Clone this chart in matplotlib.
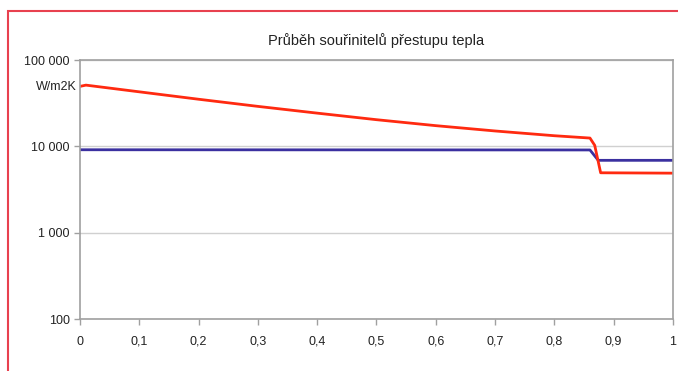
import matplotlib

matplotlib.use("Agg")
import matplotlib.pyplot as plt
from matplotlib.patches import Rectangle
from matplotlib.ticker import FixedLocator, FuncFormatter

plt.rcParams["font.family"] = ["Liberation Sans", "DejaVu Sans"]

# Průběh součinitelů přestupu tepla
x_red = [0, 0.01, 0.1, 0.2, 0.3, 0.4, 0.5, 0.6, 0.7, 0.8, 0.86, 0.868, 0.878, 1.0]
y_red = [49600, 51300, 42900, 35200, 29100, 24300, 20400, 17400, 15100, 13300,
         12500, 10300, 4950, 4900]

x_blue = [0, 0.86, 0.874, 1.0]
y_blue = [9150, 9100, 6900, 6900]

y_ticks = [100, 1000, 10000, 100000]
x_ticks = [0, 0.1, 0.2, 0.3, 0.4, 0.5, 0.6, 0.7, 0.8, 0.9, 1]

fig = plt.figure(figsize=(6.78, 3.71), dpi=100)
ax = fig.add_axes([0.118, 0.140, 0.8746, 0.698])

ax.plot(x_blue, y_blue, color="#3b30a0", lw=2)
ax.plot(x_red, y_red, color="#ff2a10", lw=2)

ax.set_yscale("log")
ax.set_ylim(100, 100000)
ax.set_xlim(0, 1)
ax.yaxis.set_major_locator(FixedLocator(y_ticks))
ax.yaxis.set_minor_locator(FixedLocator([]))
ax.yaxis.set_major_formatter(FuncFormatter(lambda v, p: f"{int(v):,}".replace(",", " ")))
ax.set_xticks(x_ticks)
ax.xaxis.set_major_formatter(FuncFormatter(lambda v, p: f"{v:g}".replace(".", ",")))

ax.grid(axis="y", color="#d0d0d0", lw=1)
ax.set_axisbelow(True)
for s in ax.spines.values():
    s.set_color("#a0a0a0")
    s.set_linewidth(1.2)
ax.tick_params(colors="#a0a0a0", labelcolor="#222222", labelsize=9, length=4, width=1)
ax.tick_params(axis="x", pad=8)

ax.text(-0.005, 0.896, "W/m2K", transform=ax.transAxes, ha="right", va="center",
        fontsize=9, color="#222222")
fig.text(0.555, 0.892, "Průběh souřinitelů přestupu tepla", ha="center", va="center",
         fontsize=10.5, color="#222222")

# red frame around the figure
fig.patches.append(Rectangle((8 / 678, -0.1), 1.2, 1 - 10.5 / 371 + 0.1,
                             transform=fig.transFigure, fill=False,
                             edgecolor="#e8414f", lw=1.5))

fig.savefig("out.png", dpi=100)
